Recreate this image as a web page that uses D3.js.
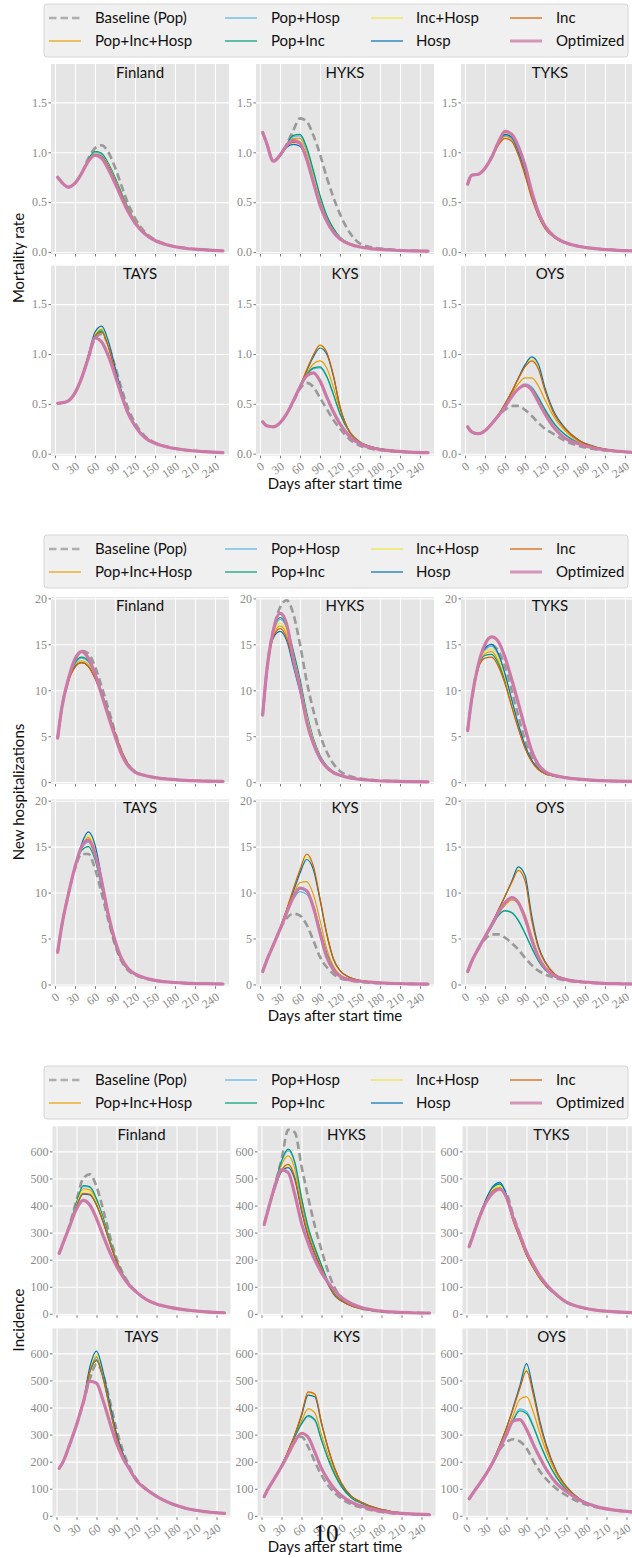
<!DOCTYPE html>
<html><head><meta charset="utf-8">
<script src="https://cdn.jsdelivr.net/npm/d3@7"></script>
<style>
body{margin:0;background:#fff;}
svg{display:block;}
</style></head><body>
<svg id="chart" width="632" height="1558"></svg>
<script>
const days = [4,10,20,30,40,50,60,70,80,90,100,110,120,135,150,170,195,225,252];
const regions = ["Finland","HYKS","TYKS","TAYS","KYS","OYS"];
const seriesNames = ["Baseline (Pop)","Pop+Inc+Hosp","Pop+Hosp","Pop+Inc","Inc+Hosp","Hosp","Inc","Optimized"];
const seriesColors = ["#999999","#E69F00","#56B4E9","#009E73","#F0E442","#0072B2","#D55E00","#CC79A7"];
const xTicks = [0,30,60,90,120,150,180,210,240];
const mortTicks = [0,0.5,1.0,1.5];
const hospTicks = [0,5,10,15,20];
const incTicks = [0,100,200,300,400,500,600];

// Each array: 8 series in seriesNames order, values at `days`
// ---- Mortality rate ----
const mortFinland = [
 [0.75,0.70,0.65,0.69,0.79,0.94,1.04,1.07,1.00,0.85,0.66,0.48,0.34,0.20,0.125,0.072,0.04,0.022,0.012],
 [0.75,0.70,0.65,0.69,0.79,0.92,0.99,0.97,0.87,0.73,0.58,0.43,0.31,0.19,0.12,0.07,0.039,0.021,0.012],
 [0.75,0.70,0.65,0.69,0.79,0.92,1.00,0.98,0.88,0.74,0.58,0.43,0.31,0.19,0.12,0.07,0.039,0.021,0.012],
 [0.75,0.70,0.65,0.69,0.79,0.93,1.01,0.99,0.89,0.75,0.59,0.44,0.31,0.19,0.12,0.07,0.039,0.021,0.012],
 [0.75,0.70,0.65,0.69,0.79,0.92,0.985,0.965,0.87,0.73,0.575,0.43,0.31,0.19,0.12,0.07,0.039,0.021,0.012],
 [0.75,0.70,0.65,0.69,0.79,0.92,0.98,0.96,0.86,0.72,0.57,0.42,0.30,0.185,0.118,0.07,0.039,0.021,0.012],
 [0.75,0.70,0.65,0.69,0.79,0.915,0.975,0.955,0.86,0.72,0.57,0.42,0.30,0.185,0.118,0.07,0.039,0.021,0.012],
 [0.75,0.70,0.65,0.69,0.79,0.91,0.97,0.94,0.83,0.69,0.54,0.40,0.29,0.18,0.115,0.068,0.038,0.021,0.012]
];
const mortHYKS = [
 [1.20,1.09,0.91,0.97,1.08,1.22,1.34,1.31,1.17,0.98,0.75,0.55,0.38,0.19,0.085,0.045,0.026,0.014,0.008],
 [1.20,1.09,0.91,0.97,1.07,1.14,1.14,1.00,0.77,0.53,0.34,0.22,0.14,0.08,0.051,0.032,0.02,0.012,0.008],
 [1.20,1.09,0.91,0.97,1.08,1.16,1.165,1.03,0.80,0.55,0.36,0.23,0.145,0.083,0.052,0.033,0.02,0.012,0.008],
 [1.20,1.09,0.91,0.97,1.08,1.17,1.18,1.05,0.82,0.57,0.37,0.24,0.15,0.085,0.053,0.033,0.02,0.012,0.008],
 [1.20,1.09,0.91,0.97,1.07,1.12,1.11,0.97,0.75,0.51,0.33,0.215,0.14,0.08,0.05,0.032,0.02,0.012,0.008],
 [1.20,1.09,0.91,0.96,1.05,1.08,1.06,0.92,0.70,0.48,0.31,0.20,0.13,0.078,0.05,0.032,0.02,0.012,0.008],
 [1.20,1.09,0.91,0.96,1.06,1.10,1.09,0.95,0.73,0.50,0.33,0.21,0.135,0.08,0.05,0.032,0.02,0.012,0.008],
 [1.20,1.09,0.91,0.97,1.07,1.12,1.09,0.93,0.70,0.47,0.31,0.20,0.13,0.078,0.05,0.032,0.02,0.012,0.008]
];
const mortTYKS = [
 [0.68,0.77,0.78,0.84,0.95,1.09,1.19,1.16,1.04,0.85,0.60,0.40,0.26,0.15,0.095,0.058,0.034,0.019,0.01],
 [0.68,0.77,0.78,0.84,0.95,1.08,1.16,1.13,0.99,0.79,0.56,0.37,0.24,0.14,0.09,0.056,0.033,0.019,0.01],
 [0.68,0.77,0.78,0.84,0.95,1.09,1.17,1.14,1.00,0.80,0.57,0.37,0.24,0.14,0.09,0.056,0.033,0.019,0.01],
 [0.68,0.77,0.78,0.84,0.95,1.09,1.185,1.16,1.02,0.82,0.58,0.38,0.25,0.145,0.092,0.057,0.033,0.019,0.01],
 [0.68,0.77,0.78,0.84,0.95,1.09,1.19,1.16,1.02,0.82,0.58,0.38,0.25,0.145,0.092,0.057,0.033,0.019,0.01],
 [0.68,0.77,0.78,0.84,0.95,1.09,1.18,1.15,1.01,0.81,0.57,0.37,0.245,0.143,0.091,0.057,0.033,0.019,0.01],
 [0.68,0.77,0.78,0.84,0.95,1.07,1.14,1.11,0.97,0.77,0.54,0.36,0.235,0.14,0.09,0.056,0.033,0.019,0.01],
 [0.68,0.77,0.78,0.84,0.95,1.10,1.21,1.18,1.06,0.87,0.61,0.40,0.26,0.15,0.095,0.058,0.034,0.019,0.01]
];
const mortTAYS = [
 [0.505,0.51,0.53,0.61,0.76,0.96,1.15,1.20,1.09,0.88,0.65,0.45,0.31,0.175,0.11,0.067,0.038,0.02,0.01],
 [0.505,0.51,0.53,0.61,0.77,0.98,1.19,1.25,1.10,0.85,0.61,0.41,0.28,0.16,0.105,0.065,0.037,0.02,0.01],
 [0.505,0.51,0.53,0.61,0.77,0.98,1.19,1.24,1.09,0.85,0.60,0.41,0.28,0.16,0.105,0.065,0.037,0.02,0.01],
 [0.505,0.51,0.53,0.61,0.77,0.98,1.18,1.23,1.08,0.84,0.60,0.41,0.28,0.16,0.105,0.065,0.037,0.02,0.01],
 [0.505,0.51,0.53,0.61,0.77,0.98,1.20,1.26,1.11,0.86,0.61,0.415,0.285,0.16,0.105,0.065,0.037,0.02,0.01],
 [0.505,0.51,0.53,0.61,0.77,0.99,1.22,1.28,1.13,0.87,0.62,0.42,0.29,0.165,0.105,0.065,0.037,0.02,0.01],
 [0.505,0.51,0.53,0.61,0.77,0.97,1.18,1.22,1.07,0.83,0.59,0.40,0.28,0.16,0.105,0.065,0.037,0.02,0.01],
 [0.505,0.51,0.53,0.61,0.76,0.96,1.16,1.12,0.98,0.79,0.58,0.40,0.28,0.16,0.105,0.065,0.037,0.02,0.01]
];
const mortKYS = [
 [0.32,0.28,0.27,0.31,0.40,0.52,0.65,0.71,0.67,0.56,0.45,0.34,0.25,0.14,0.08,0.045,0.026,0.015,0.01],
 [0.32,0.28,0.27,0.31,0.40,0.53,0.67,0.80,0.90,0.93,0.86,0.67,0.44,0.22,0.12,0.065,0.035,0.018,0.01],
 [0.32,0.28,0.27,0.31,0.40,0.53,0.67,0.79,0.85,0.86,0.77,0.59,0.40,0.21,0.115,0.063,0.034,0.018,0.01],
 [0.32,0.28,0.27,0.31,0.40,0.53,0.67,0.79,0.86,0.87,0.78,0.60,0.40,0.21,0.115,0.063,0.034,0.018,0.01],
 [0.32,0.28,0.27,0.31,0.40,0.53,0.68,0.84,0.98,1.08,1.01,0.78,0.47,0.21,0.115,0.065,0.035,0.018,0.01],
 [0.32,0.28,0.27,0.31,0.40,0.53,0.68,0.83,0.97,1.06,1.00,0.78,0.47,0.21,0.115,0.065,0.035,0.018,0.01],
 [0.32,0.28,0.27,0.31,0.40,0.53,0.68,0.84,0.99,1.09,1.02,0.79,0.47,0.21,0.115,0.065,0.035,0.018,0.01],
 [0.32,0.28,0.27,0.31,0.40,0.53,0.67,0.78,0.81,0.73,0.57,0.42,0.30,0.17,0.10,0.055,0.03,0.016,0.01]
];
const mortOYS = [
 [0.27,0.22,0.20,0.23,0.30,0.38,0.44,0.48,0.48,0.44,0.38,0.31,0.25,0.19,0.13,0.08,0.045,0.024,0.013],
 [0.27,0.22,0.20,0.23,0.30,0.39,0.49,0.60,0.70,0.76,0.76,0.68,0.54,0.35,0.23,0.125,0.065,0.03,0.015],
 [0.27,0.22,0.20,0.23,0.30,0.385,0.48,0.58,0.655,0.70,0.67,0.57,0.45,0.295,0.195,0.11,0.058,0.028,0.014],
 [0.27,0.22,0.20,0.23,0.30,0.385,0.48,0.58,0.65,0.69,0.66,0.56,0.44,0.29,0.19,0.11,0.058,0.028,0.014],
 [0.27,0.22,0.20,0.23,0.30,0.39,0.50,0.62,0.76,0.88,0.95,0.88,0.65,0.39,0.255,0.14,0.07,0.032,0.016],
 [0.27,0.22,0.20,0.23,0.30,0.39,0.50,0.62,0.76,0.89,0.97,0.90,0.66,0.40,0.26,0.14,0.07,0.032,0.016],
 [0.27,0.22,0.20,0.23,0.30,0.39,0.50,0.62,0.75,0.87,0.93,0.85,0.63,0.38,0.25,0.135,0.068,0.031,0.016],
 [0.27,0.22,0.20,0.23,0.30,0.38,0.47,0.57,0.65,0.685,0.64,0.52,0.40,0.25,0.155,0.10,0.055,0.027,0.014]
];
// ---- New hospitalizations ----
const hospFinland = [
 [4.8,8.0,11.2,13.2,14.3,14.0,12.6,10.4,8.0,5.5,3.3,1.9,1.15,0.74,0.5,0.33,0.2,0.12,0.08],
 [4.8,7.9,11.0,12.7,13.2,12.8,11.5,9.6,7.5,5.3,3.3,1.9,1.15,0.74,0.5,0.33,0.2,0.12,0.08],
 [4.8,7.9,11.0,12.9,13.5,13.1,11.7,9.7,7.5,5.3,3.3,1.9,1.15,0.74,0.5,0.33,0.2,0.12,0.08],
 [4.8,7.9,11.0,13.0,13.6,13.2,11.8,9.8,7.6,5.3,3.3,1.9,1.15,0.74,0.5,0.33,0.2,0.12,0.08],
 [4.8,7.9,11.0,12.6,13.1,12.7,11.4,9.5,7.4,5.3,3.3,1.9,1.15,0.74,0.5,0.33,0.2,0.12,0.08],
 [4.8,7.9,11.0,12.6,13.0,12.6,11.3,9.5,7.4,5.3,3.3,1.9,1.15,0.74,0.5,0.33,0.2,0.12,0.08],
 [4.8,7.9,10.9,12.5,13.0,12.6,11.3,9.5,7.5,5.4,3.4,1.95,1.17,0.75,0.5,0.33,0.2,0.12,0.08],
 [4.8,8.0,11.2,13.4,14.2,13.5,11.8,9.5,7.2,5.0,3.0,1.75,1.1,0.72,0.5,0.33,0.2,0.12,0.08]
];
const hospHYKS = [
 [7.3,12.0,16.6,19.0,19.8,18.3,15.0,11.0,7.8,5.2,3.3,2.0,1.2,0.65,0.4,0.22,0.13,0.07,0.04],
 [7.3,11.9,15.9,17.0,16.1,13.4,10.5,7.0,4.5,2.7,1.7,1.1,0.78,0.5,0.33,0.2,0.12,0.065,0.04],
 [7.3,12.0,16.2,17.7,16.8,14.1,11.0,7.4,4.7,2.8,1.75,1.12,0.79,0.5,0.33,0.2,0.12,0.065,0.04],
 [7.3,12.0,16.3,17.9,17.0,14.3,11.2,7.6,4.8,2.9,1.8,1.15,0.8,0.5,0.33,0.2,0.12,0.065,0.04],
 [7.3,12.0,16.0,17.3,16.4,13.7,10.7,7.2,4.6,2.7,1.7,1.1,0.78,0.5,0.33,0.2,0.12,0.065,0.04],
 [7.3,11.9,15.7,16.4,15.4,12.6,9.8,6.5,4.1,2.5,1.55,1.05,0.75,0.48,0.32,0.2,0.12,0.065,0.04],
 [7.3,11.9,15.8,16.7,15.7,13.0,10.1,6.8,4.3,2.6,1.6,1.07,0.76,0.49,0.32,0.2,0.12,0.065,0.04],
 [7.3,12.0,16.5,18.4,17.2,13.4,10.3,6.6,4.2,2.6,1.6,1.05,0.75,0.45,0.3,0.18,0.11,0.06,0.04]
];
const hospTYKS = [
 [5.6,9.0,12.7,14.5,14.9,14.3,12.6,10.0,7.2,4.6,2.7,1.55,1.0,0.68,0.5,0.33,0.2,0.12,0.08],
 [5.6,9.0,12.6,14.0,14.2,13.2,11.2,8.5,6.0,3.85,2.3,1.4,0.95,0.65,0.48,0.32,0.2,0.12,0.08],
 [5.6,9.0,12.7,14.4,14.8,13.8,11.6,8.9,6.2,4.0,2.4,1.45,0.95,0.65,0.48,0.32,0.2,0.12,0.08],
 [5.6,8.9,12.5,13.8,13.9,12.9,11.0,8.4,5.9,3.8,2.3,1.4,0.95,0.65,0.48,0.32,0.2,0.12,0.08],
 [5.6,9.0,12.7,14.2,14.5,13.5,11.4,8.7,6.1,3.9,2.35,1.42,0.95,0.65,0.48,0.32,0.2,0.12,0.08],
 [5.6,9.0,12.8,14.6,15.0,14.0,11.8,9.0,6.3,4.0,2.4,1.45,0.95,0.65,0.48,0.32,0.2,0.12,0.08],
 [5.6,8.9,12.4,13.5,13.6,12.6,10.7,8.2,5.8,3.7,2.25,1.38,0.93,0.64,0.47,0.32,0.2,0.12,0.08],
 [5.6,9.0,12.8,15.0,15.8,15.3,13.6,11.2,8.6,5.9,3.4,1.9,1.15,0.72,0.5,0.33,0.2,0.12,0.08]
];
const hospTAYS = [
 [3.5,6.3,9.8,12.6,14.2,14.2,12.6,9.9,7.0,4.3,2.5,1.5,1.05,0.65,0.43,0.26,0.15,0.085,0.05],
 [3.5,6.3,9.8,12.8,15.0,16.0,14.6,11.2,7.4,4.5,2.6,1.6,1.1,0.68,0.44,0.27,0.15,0.085,0.05],
 [3.5,6.3,9.8,12.8,14.8,15.5,14.1,10.9,7.3,4.5,2.6,1.6,1.1,0.68,0.44,0.27,0.15,0.085,0.05],
 [3.5,6.3,9.8,12.8,14.6,15.0,13.6,10.6,7.2,4.4,2.55,1.58,1.1,0.68,0.44,0.27,0.15,0.085,0.05],
 [3.5,6.3,9.8,12.8,15.1,16.2,14.8,11.3,7.5,4.6,2.6,1.6,1.1,0.68,0.44,0.27,0.15,0.085,0.05],
 [3.5,6.3,9.8,12.8,15.3,16.6,15.2,11.6,7.6,4.6,2.6,1.6,1.1,0.68,0.44,0.27,0.15,0.085,0.05],
 [3.5,6.3,9.8,12.8,14.9,15.8,14.4,11.0,7.3,4.5,2.6,1.6,1.1,0.68,0.44,0.27,0.15,0.085,0.05],
 [3.5,6.3,9.8,12.8,15.0,15.7,14.2,11.2,7.6,4.8,2.8,1.7,1.15,0.7,0.45,0.27,0.15,0.085,0.05]
];
const hospKYS = [
 [1.4,2.6,4.3,6.0,7.2,7.7,7.5,6.5,4.8,3.0,1.9,1.15,0.7,0.42,0.28,0.18,0.11,0.06,0.04],
 [1.4,2.6,4.3,6.1,7.9,9.7,11.1,11.2,9.8,7.0,3.9,2.0,1.05,0.6,0.38,0.23,0.13,0.07,0.04],
 [1.4,2.6,4.3,6.0,7.8,9.3,10.1,9.8,8.4,5.9,3.3,1.75,0.95,0.55,0.36,0.22,0.13,0.07,0.04],
 [1.4,2.6,4.3,6.0,7.8,9.4,10.4,10.1,8.6,6.0,3.4,1.8,0.95,0.55,0.36,0.22,0.13,0.07,0.04],
 [1.4,2.6,4.3,6.1,8.2,10.3,12.3,13.9,12.7,9.3,5.6,2.8,1.5,0.75,0.45,0.27,0.15,0.08,0.05],
 [1.4,2.6,4.3,6.1,8.1,10.1,12.1,13.6,12.5,9.2,5.5,2.8,1.5,0.75,0.45,0.27,0.15,0.08,0.05],
 [1.4,2.6,4.3,6.1,8.2,10.4,12.5,14.2,12.9,9.4,5.6,2.8,1.5,0.75,0.45,0.27,0.15,0.08,0.05],
 [1.4,2.6,4.3,6.0,7.8,9.5,10.5,10.2,8.4,5.6,3.0,1.6,0.9,0.5,0.35,0.22,0.13,0.07,0.04]
];
const hospOYS = [
 [1.4,2.5,3.9,4.9,5.45,5.45,5.1,4.5,3.8,2.9,2.1,1.5,1.1,0.7,0.45,0.27,0.16,0.09,0.05],
 [1.4,2.5,3.9,5.2,6.5,7.7,8.6,9.2,8.9,7.6,5.3,3.2,1.9,0.95,0.56,0.33,0.18,0.09,0.05],
 [1.4,2.5,3.9,5.1,6.3,7.5,8.05,7.85,7.0,5.6,4.0,2.6,1.6,0.85,0.52,0.3,0.17,0.09,0.05],
 [1.4,2.5,3.9,5.1,6.3,7.5,8.0,7.8,6.95,5.55,4.0,2.6,1.6,0.85,0.52,0.3,0.17,0.09,0.05],
 [1.4,2.5,3.9,5.2,6.6,8.1,9.6,11.1,12.5,11.7,7.4,4.1,2.45,1.1,0.62,0.36,0.2,0.1,0.05],
 [1.4,2.5,3.9,5.2,6.6,8.1,9.6,11.2,12.8,11.9,7.5,4.2,2.5,1.1,0.62,0.36,0.2,0.1,0.05],
 [1.4,2.5,3.9,5.2,6.6,8.1,9.6,11.1,12.4,11.3,7.0,4.0,2.4,1.1,0.62,0.36,0.2,0.1,0.05],
 [1.4,2.5,3.9,5.2,6.5,7.8,8.9,9.45,8.9,7.2,4.9,3.0,1.8,0.9,0.55,0.32,0.18,0.09,0.05]
];
// ---- Incidence ----
const incFinland = [
 [223,262,332,420,500,515,470,385,288,205,148,108,82,53,36,24,14,7,4],
 [223,262,329,405,462,458,416,348,268,196,143,105,80,52,36,24,14,7,4],
 [223,262,330,409,471,467,423,353,271,197,144,106,81,52,36,24,14,7,4],
 [223,262,330,410,474,470,425,355,272,198,144,106,81,52,36,24,14,7,4],
 [223,262,328,402,455,451,410,344,266,195,143,105,80,52,36,24,14,7,4],
 [223,262,327,397,442,439,401,338,262,193,142,105,80,52,36,24,14,7,4],
 [223,262,327,398,445,442,403,339,263,194,142,105,80,52,36,24,14,7,4],
 [223,262,325,388,419,402,352,288,228,177,136,103,80,52,36,24,14,7,4]
];
const incHYKS = [
 [330,385,475,570,680,670,545,430,325,235,156,95,60,33,20,11,6,4,3],
 [330,385,470,550,583,535,410,308,237,175,115,71,49,30,19,11,6,4,3],
 [330,385,476,562,603,556,427,318,244,179,117,72,50,30,19,11,6,4,3],
 [330,385,478,565,608,560,430,320,245,180,118,72,50,30,19,11,6,4,3],
 [330,385,465,528,548,502,385,290,224,165,109,68,48,29,19,11,6,4,3],
 [330,385,462,525,540,495,380,285,220,162,107,66,47,29,19,11,6,4,3],
 [330,385,466,530,552,505,388,292,225,166,110,68,48,29,19,11,6,4,3],
 [330,385,470,532,522,440,335,262,200,152,115,85,60,37,23,13,7,4,3]
];
const incTYKS = [
 [248,292,362,420,455,466,445,365,295,228,180,138,105,70,42,25,13,7,4],
 [248,292,362,421,458,467,427,345,280,217,171,131,101,68,41,24,13,7,4],
 [248,292,364,426,469,482,437,350,283,218,172,132,101,68,41,24,13,7,4],
 [248,292,364,425,467,479,435,349,282,218,172,132,101,68,41,24,13,7,4],
 [248,292,363,423,462,473,431,347,281,217,171,131,101,68,41,24,13,7,4],
 [248,292,365,428,472,486,440,352,284,219,172,132,101,68,41,24,13,7,4],
 [248,292,362,420,455,463,424,343,279,216,171,131,101,68,41,24,13,7,4],
 [248,290,360,415,448,460,430,355,292,228,182,140,107,71,43,25,13,7,4]
];
const incTAYS = [
 [175,200,265,335,415,505,560,520,425,320,238,178,136,99,73,47,27,15,9],
 [175,200,265,335,420,538,589,520,404,298,224,170,132,98,73,47,27,15,9],
 [175,200,265,335,420,535,584,515,401,296,223,169,131,98,73,47,27,15,9],
 [175,200,265,335,419,530,573,506,396,293,221,168,131,98,73,47,27,15,9],
 [175,200,265,335,420,542,596,525,408,300,225,170,132,98,73,47,27,15,9],
 [175,200,265,335,420,550,608,532,415,305,228,172,133,98,73,47,27,15,9],
 [175,200,265,335,419,533,577,510,398,294,222,169,131,98,73,47,27,15,9],
 [175,200,265,335,418,497,490,425,345,268,212,170,130,97,72,47,27,15,9]
];
const incKYS = [
 [71,100,140,182,228,275,292,255,200,150,112,84,63,42,30,18,10,6,4],
 [71,100,140,184,238,295,350,395,380,300,225,160,112,68,48,29,16,8,5],
 [71,100,140,184,237,291,338,366,352,278,208,150,107,66,47,28,15,8,5],
 [71,100,140,184,237,292,340,370,355,280,210,152,108,66,47,28,15,8,5],
 [71,100,140,185,240,300,372,452,446,343,249,174,120,72,50,30,16,8,5],
 [71,100,140,185,240,300,368,446,440,340,248,173,119,72,50,30,16,8,5],
 [71,100,140,185,240,300,375,458,450,345,250,175,120,72,50,30,16,8,5],
 [71,100,140,182,228,275,305,290,235,175,132,98,74,50,36,22,12,7,4]
];
const incOYS = [
 [63,85,120,157,200,245,272,283,275,250,205,165,135,100,75,50,32,20,14],
 [63,85,120,158,203,255,310,370,430,440,385,305,235,155,103,60,34,20,14],
 [63,85,120,157,202,252,302,355,395,385,335,270,212,143,97,58,34,20,14],
 [63,85,120,157,202,251,300,352,388,378,330,267,210,142,96,58,34,20,14],
 [63,85,120,158,205,262,325,398,476,545,462,345,257,163,107,62,35,20,14],
 [63,85,120,158,205,262,325,400,480,562,465,350,260,165,108,62,35,20,14],
 [63,85,120,158,205,262,324,395,470,535,450,338,253,162,106,61,35,20,14],
 [63,85,120,157,200,250,300,350,355,320,265,215,170,120,90,58,34,20,14]
];

// ---------------- drawing ----------------
const svg = d3.select("#chart");
const sansFont = "Lato, 'DejaVu Sans', sans-serif";
const serifFont = "'Liberation Serif', 'DejaVu Serif', serif";
const colLeft = [51, 256, 461];
const panelW = 178;
const x = d3.scaleLinear().domain([-6, 261]).range([0, panelW]);

const sections = [
  {data:[mortFinland,mortHYKS,mortTYKS,mortTAYS,mortKYS,mortOYS], ticks:mortTicks, fmt:d3.format(".1f"),
   domain:[-0.02,1.885], rowTops:[64,265.7], h:190, legendTop:4, xTitleY:489, yTitle:"Mortality rate", yTitleY:258, dx:0},
  {data:[hospFinland,hospHYKS,hospTYKS,hospTAYS,hospKYS,hospOYS], ticks:hospTicks, fmt:d3.format("d"),
   domain:[-0.2,20.15], rowTops:[597,799.3], h:187, legendTop:535, xTitleY:1021, yTitle:"New hospitalizations", yTitleY:792, dx:0},
  {data:[incFinland,incHYKS,incTYKS,incTAYS,incKYS,incOYS], ticks:incTicks, fmt:d3.format("d"),
   domain:[-5.5,692.6], rowTops:[1126.3,1328.3], h:189, legendTop:1066, xTitleY:1552, yTitle:"Incidence", yTitleY:1320, dx:1.5}
];

const defs = svg.append("defs");
defs.append("clipPath").attr("id","panelclip").append("rect").attr("width",panelW).attr("height",300).attr("y",-50);

const legendHandleX = [49, 225, 371, 510];
const legendTextX = [95, 271, 416, 556];

function styleFor(i){
  if(i===0) return {w:2.6, dash:"7.5,4"};
  if(i===7) return {w:3.2, dash:null};
  return {w:1.2, dash:null};
}

sections.forEach((sec, si) => {
  // legend
  const lg = svg.append("g");
  lg.append("rect").attr("x",44).attr("y",sec.legendTop).attr("width",584).attr("height",53)
    .attr("rx",3).attr("fill","#f0f0f0").attr("stroke","#d6d6d6").attr("stroke-width",1);
  seriesNames.forEach((name,i)=>{
    const col = Math.floor(i/2), row = i%2;
    const cy = sec.legendTop + 14 + row*23;
    const st = styleFor(i);
    lg.append("line").attr("x1",legendHandleX[col]).attr("x2",legendHandleX[col]+32)
      .attr("y1",cy).attr("y2",cy).attr("stroke",seriesColors[i]).attr("stroke-width", i===0?2.6:(i===7?3:1.6))
      .attr("stroke-dasharray",st.dash).attr("opacity",0.75);
    lg.append("text").attr("x",legendTextX[col]).attr("y",cy+5).text(name)
      .attr("font-family",sansFont).attr("font-size",15).attr("fill","#111");
  });

  const y = d3.scaleLinear().domain(sec.domain).range([sec.h, 0]);
  const line = d3.line().x((d,k)=>x(days[k])).y(d=>y(d)).curve(d3.curveMonotoneX);

  regions.forEach((reg, ri) => {
    const r = Math.floor(ri/3), c = ri%3;
    const g = svg.append("g").attr("transform",`translate(${colLeft[c]+sec.dx},${sec.rowTops[r]})`);
    g.append("rect").attr("width",panelW).attr("height",sec.h).attr("fill","#e5e5e5");
    // grids
    g.append("g").call(d3.axisLeft(y).tickValues(sec.ticks).tickSize(-panelW).tickFormat(""))
      .call(a=>{a.select(".domain").remove(); a.selectAll("line").attr("stroke","#fff").attr("stroke-width",1.1);});
    g.append("g").attr("transform",`translate(0,${sec.h})`)
      .call(d3.axisBottom(x).tickValues(xTicks).tickSize(sec.h).tickFormat(""))
      .call(a=>{a.select(".domain").remove(); a.selectAll("line").attr("stroke","#fff").attr("stroke-width",1.1).attr("y2",-sec.h);});
    // y axis ticks & labels
    g.append("g").call(d3.axisLeft(y).tickValues(sec.ticks).tickSize(2.5).tickPadding(1.5).tickFormat(sec.fmt))
      .call(a=>{a.select(".domain").remove();
        a.selectAll("line").attr("stroke","#555").attr("stroke-width",0.8);
        a.selectAll("text").attr("font-family",serifFont).attr("font-size",12).attr("fill","#8a8a8a");});
    // x axis ticks
    const xa = g.append("g").attr("transform",`translate(0,${sec.h})`)
      .call(d3.axisBottom(x).tickValues(xTicks).tickSize(2.5).tickFormat(r===1? d3.format("d") : ""));
    xa.select(".domain").remove();
    xa.selectAll("line").attr("stroke","#555").attr("stroke-width",0.8);
    xa.selectAll("text").attr("font-family",serifFont).attr("font-size",12).attr("fill","#8a8a8a")
      .attr("x",-1).attr("y",0).attr("dy","0.8em").attr("text-anchor","end")
      .attr("transform","translate(0,4) rotate(-35)");
    // lines
    const lines = g.append("g").attr("clip-path","url(#panelclip)");
    sec.data[ri].forEach((vals,i)=>{
      const st = styleFor(i);
      lines.append("path").attr("d",line(vals)).attr("fill","none")
        .attr("stroke",seriesColors[i]).attr("stroke-width",st.w)
        .attr("stroke-dasharray",st.dash).attr("stroke-linecap", i===0?"butt":"round");
    });
    // title
    g.append("text").attr("x",panelW/2).attr("y",13.5).attr("text-anchor","middle").text(reg)
      .attr("font-family",sansFont).attr("font-size",15).attr("fill","#111");
  });

  // axis titles
  svg.append("text").attr("x",335).attr("y",sec.xTitleY).attr("text-anchor","middle").text("Days after start time")
    .attr("font-family",sansFont).attr("font-size",15).attr("fill","#111");
  svg.append("text").attr("transform",`translate(19,${sec.yTitleY}) rotate(-90)`).attr("text-anchor","middle")
    .attr("dy","0.35em").text(sec.yTitle).attr("font-family",sansFont).attr("font-size",15).attr("fill","#111");
});

// page number (overlaps the axis title as in the source page)
svg.append("text").attr("x",326).attr("y",1542).attr("text-anchor","middle").text("10")
  .attr("font-family",serifFont).attr("font-size",25).attr("fill","#111");
</script>
</body></html>
